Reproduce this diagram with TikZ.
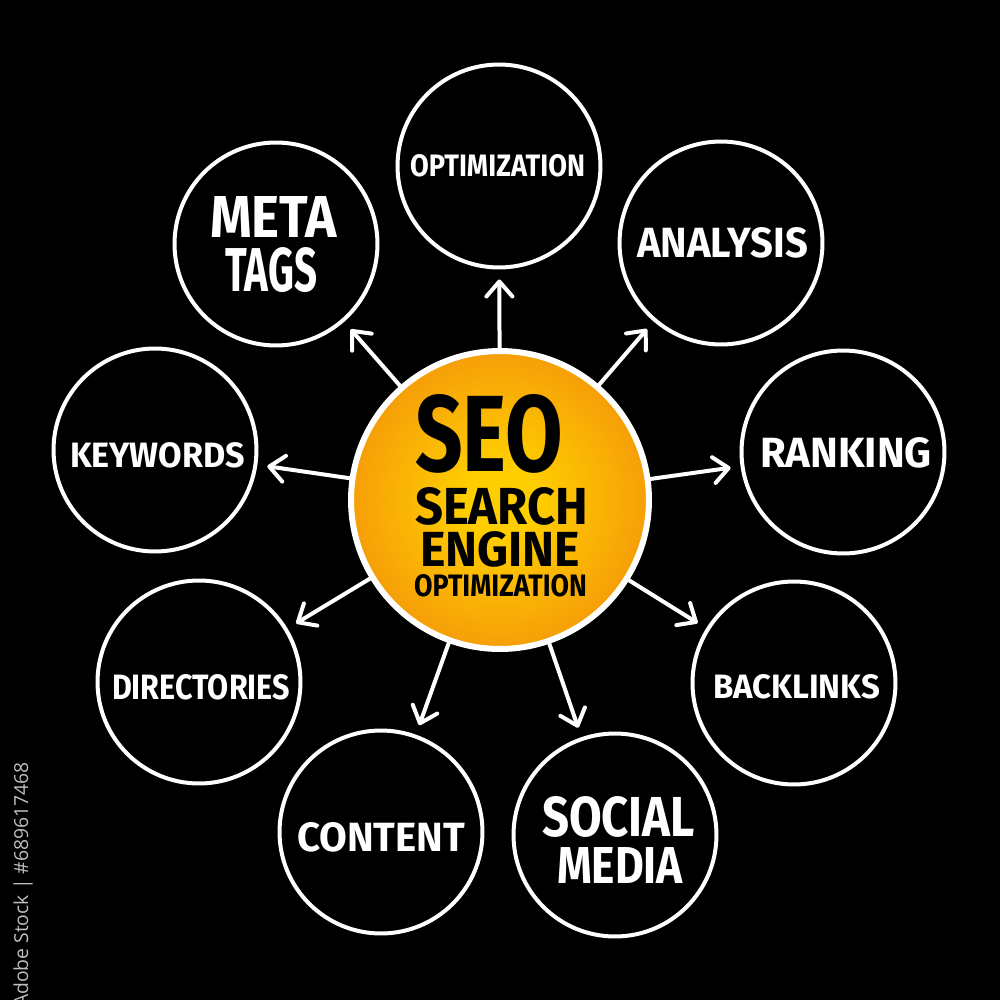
\documentclass[tikz,border=0pt]{standalone}
\usepackage{fontspec}
\setmainfont{Fira Sans}
\newfontfamily\idfont{Open Sans}
\usetikzlibrary{arrows.meta}
\definecolor{seoyel}{RGB}{255,206,0}
\definecolor{seoorg}{RGB}{246,158,8}
\definecolor{idgray}{RGB}{190,190,190}
\pgfdeclareradialshading{seoshade}{\pgfpoint{0bp}{0bp}}{color(0bp)=(seoyel);color(6bp)=(seoyel);color(25bp)=(seoorg);color(50bp)=(seoorg)}
\newcommand{\fitt}[3]{\resizebox{#1cm}{#2cm}{\bfseries #3}}
\begin{document}
\begin{tikzpicture}[x=0.02cm,y=-0.02cm,
  ring/.style={circle,draw=white,line width=0.08cm,fill=black,minimum size=4.06cm,inner sep=0},
  lbl/.style={inner sep=0,text=white,anchor=center},
  clbl/.style={inner sep=0,text=black,anchor=center},
  arr/.style={draw=white,line width=0.08cm,line cap=round,-{Straight Barb[length=0.3cm,width=0.52cm,round]},shorten >=0.2cm}]
\fill[black] (0,0) rectangle (1000,1000);
\useasboundingbox (0,0) rectangle (1000,1000);

% centre
\node[circle,draw=white,line width=0.12cm,shade,shading=seoshade,minimum size=5.96cm,inner sep=0] (seo) at (500,500) {};

% outer circles
\node[ring] (optim) at (499,166) {};
\node[ring] (analysis) at (721,243) {};
\node[ring] (ranking) at (843,452) {};
\node[ring] (backlinks) at (794,683) {};
\node[ring] (social) at (615,835) {};
\node[ring] (content) at (381,832) {};
\node[ring] (directories) at (199,682) {};
\node[ring] (keywords) at (155,450) {};
\node[ring] (meta) at (276,244) {};

% arrows
\foreach \t in {optim,analysis,ranking,backlinks,social,content,directories,keywords,meta}
  \draw[arr] (seo) -- (\t);

% centre labels
\node[clbl] (seo-t) at (489,433.5) {\fitt{2.96}{1.54}{SEO}};
\node[clbl] (search-t) at (501.5,506.5) {\fitt{3.46}{0.74}{SEARCH}};
\node[clbl] (engine-t) at (500,549.5) {\fitt{3.20}{0.70}{ENGINE}};
\node[clbl] (opt-t) at (500.5,586) {\fitt{3.46}{0.44}{OPTIMIZATION}};

% outer labels
\node[lbl] (optim-t) at (497.5,166) {\fitt{3.50}{0.44}{OPTIMIZATION}};
\node[lbl] (analysis-t) at (722.5,243) {\fitt{3.42}{0.60}{ANALYSIS}};
\node[lbl] (ranking-t) at (846,453) {\fitt{3.44}{0.60}{RANKING}};
\node[lbl] (backlinks-t) at (796.5,686.5) {\fitt{3.34}{0.48}{BACKLINKS}};
\node[lbl] (social-t) at (618.5,817) {\fitt{3.06}{0.80}{SOCIAL}};
\node[lbl] (media-t) at (620,865) {\fitt{2.52}{0.72}{MEDIA}};
\node[lbl] (content-t) at (381,837.5) {\fitt{3.36}{0.58}{CONTENT}};
\node[lbl] (directories-t) at (201,687.5) {\fitt{3.56}{0.50}{DIRECTORIES}};
\node[lbl] (keywords-t) at (157.5,455.5) {\fitt{3.50}{0.50}{KEYWORDS}};
\node[lbl] (meta-t) at (273.5,217.5) {\fitt{2.54}{0.82}{META}};
\node[lbl] (tags-t) at (271,270) {\fitt{1.84}{0.88}{TAGS}};

% stock id
\node[rotate=90,anchor=east,text=idgray,font=\idfont\fontsize{11}{13}\selectfont,inner sep=0] (stockid) at (23,762) {Adobe Stock | \#689617468};
\end{tikzpicture}
\end{document}
